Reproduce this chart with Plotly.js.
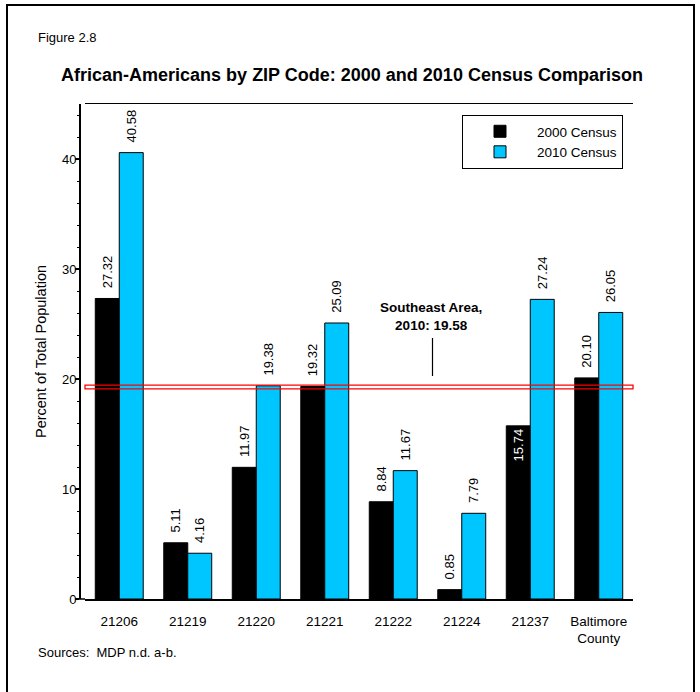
<!DOCTYPE html>
<html>
<head>
<meta charset="utf-8">
<script src="https://cdn.plot.ly/plotly-3.0.1.min.js"></script>
<style>
  html, body { margin: 0; padding: 0; background: #fff; }
  #chart { width: 700px; height: 692px; }
</style>
</head>
<body>
<div id="chart"></div>
<script>
// ---------------- data ----------------
const categories = ['21206', '21219', '21220', '21221', '21222', '21224', '21237', 'Baltimore<br>County'];
const census2000 = [27.32, 5.11, 11.97, 19.32, 8.84, 0.85, 15.74, 20.10];
const census2010 = [40.58, 4.16, 19.38, 25.09, 11.67, 7.79, 27.24, 26.05];
const seriesNames = ['2000 Census', '2010 Census'];
const southeastLabel = 'Southeast Area,<br>2010: 19.58';
const southeastBandLow = 19.10;   // red band as drawn in the figure
const southeastBandHigh = 19.45;
const yTickValues = [0, 10, 20, 30, 40];
// --------------------------------------

const W = 700, H = 692;
const L = 79, R = 633, T = 104, B = 599;
const px2x = p => (p - L) / (R - L);
const py2y = p => (B - p) / (B - T);
const FONT = 'Liberation Sans, Arial, Helvetica, sans-serif';
const plotStart = px2x(85);

const insideIdx = 6; // 15.74 label drawn inside the bar in white
const pos2000 = census2000.map((v, i) => i === insideIdx ? 'inside' : 'outside');
const col2000 = census2000.map((v, i) => i === insideIdx ? '#ffffff' : '#000000');

const traces = [
  {
    type: 'bar', name: seriesNames[0], x: categories, y: census2000,
    marker: { color: '#000000', line: { color: '#000000', width: 1 } },
    texttemplate: '\u00a0\u00a0%{y:.2f}', textposition: pos2000, textangle: -90,
    insidetextanchor: 'end',
    textfont: { family: FONT, size: 13, color: col2000 },
    outsidetextfont: { family: FONT, size: 13, color: '#000000' },
    insidetextfont: { family: FONT, size: 13, color: '#ffffff' },
    constraintext: 'none', cliponaxis: false, hoverinfo: 'skip'
  },
  {
    type: 'bar', name: seriesNames[1], x: categories, y: census2010,
    marker: { color: '#00c6ff', line: { color: '#000000', width: 1 } },
    texttemplate: '\u00a0\u00a0%{y:.2f}', textposition: 'outside', textangle: -90,
    textfont: { family: FONT, size: 13, color: '#000000' },
    constraintext: 'none', cliponaxis: false, hoverinfo: 'skip'
  }
];

const layout = {
  width: W, height: H,
  margin: { l: L, r: W - R, t: T, b: H - B, pad: 0 },
  paper_bgcolor: '#ffffff', plot_bgcolor: '#ffffff',
  font: { family: FONT, size: 13, color: '#000000' },
  barmode: 'group', bargap: 0.3, bargroupgap: 0,
  title: {
    text: '<b>African-Americans by ZIP Code: 2000 and 2010 Census Comparison</b>',
    font: { family: FONT, size: 18, color: '#000000' },
    x: 352 / W, xanchor: 'center', xref: 'container',
    y: 1 - 75 / H, yanchor: 'middle', yref: 'container'
  },
  xaxis: {
    type: 'category', domain: [plotStart, 1],
    showline: true, mirror: true, linecolor: '#000000', linewidth: 1.5,
    ticks: 'outside', ticklen: 9, tickcolor: 'rgba(0,0,0,0)',
    tickfont: { family: FONT, size: 13.5, color: '#000000' },
    showgrid: false, zeroline: false, fixedrange: true
  },
  yaxis: {
    range: [0, 45], anchor: 'free', position: 0,
    tickvals: yTickValues, ticks: 'outside', ticklen: 4, tickwidth: 1.2, tickcolor: '#000000',
    ticklabelstandoff: -4,
    minor: { dtick: 2, ticks: 'outside', ticklen: 2, tickcolor: '#000000', tickwidth: 1 },
    showline: true, linecolor: '#000000', linewidth: 1.5,
    showgrid: false, zeroline: false,
    tickfont: { family: FONT, size: 13, color: '#000000' },
    title: { text: 'Percent of Total Population', font: { family: FONT, size: 14.5, color: '#000000' }, standoff: 10 },
    fixedrange: true
  },
  yaxis2: {
    range: [0, 45], overlaying: 'y', side: 'right', anchor: 'x',
    tickvals: yTickValues, ticks: 'inside', ticklen: 5, tickwidth: 1.2, tickcolor: '#000000',
    minor: { dtick: 2, ticks: 'inside', ticklen: 2, tickcolor: '#000000', tickwidth: 1 },
    showline: true, linecolor: '#000000', linewidth: 1.5,
    showgrid: false, zeroline: false, showticklabels: false, fixedrange: true
  },
  legend: {
    x: px2x(623), xanchor: 'right', y: py2y(115), yanchor: 'top',
    bgcolor: '#ffffff', bordercolor: '#000000', borderwidth: 1,
    font: { family: FONT, size: 13.5, color: '#000000' },
    itemwidth: 64,
    traceorder: 'normal', itemclick: false, itemdoubleclick: false
  },
  shapes: [
    // red reference band
    { type: 'rect', xref: 'paper', yref: 'y', x0: plotStart, x1: 1,
      y0: southeastBandLow, y1: southeastBandHigh,
      line: { color: '#ff0000', width: 1.3 }, fillcolor: 'rgba(0,0,0,0)', layer: 'above' },
    // pointer line from label to band
    { type: 'line', xref: 'paper', yref: 'paper', x0: px2x(432.5), x1: px2x(432.5),
      y0: py2y(338), y1: py2y(376), line: { color: '#000000', width: 1.2 } },
    // bottom axis extension between y-axis and plot start
    { type: 'line', xref: 'paper', yref: 'paper', x0: 0, x1: plotStart, y0: 0, y1: 0,
      line: { color: '#000000', width: 1.5 } },
    // outer figure frame
    { type: 'rect', xref: 'paper', yref: 'paper', x0: px2x(7), x1: px2x(694),
      y0: py2y(700), y1: py2y(5), line: { color: '#000000', width: 2 },
      fillcolor: 'rgba(0,0,0,0)', layer: 'above' }
  ],
  annotations: [
    { text: 'Figure 2.8', xref: 'paper', yref: 'paper', x: px2x(36), y: py2y(37),
      xanchor: 'left', yanchor: 'middle', showarrow: false,
      font: { family: FONT, size: 13, color: '#000000' } },
    { text: '<b>' + southeastLabel + '</b>', xref: 'paper', yref: 'paper',
      x: px2x(431), y: py2y(316), xanchor: 'center', yanchor: 'middle', showarrow: false,
      align: 'center', font: { family: FONT, size: 13.5, color: '#000000' } },
    { text: 'Sources:  MDP n.d. a-b.', xref: 'paper', yref: 'paper', x: px2x(36), y: py2y(652),
      xanchor: 'left', yanchor: 'middle', showarrow: false,
      font: { family: FONT, size: 13, color: '#000000' } }
  ],
  showlegend: true
};

Plotly.newPlot('chart', traces, layout, { staticPlot: true, displayModeBar: false });
</script>
</body>
</html>
